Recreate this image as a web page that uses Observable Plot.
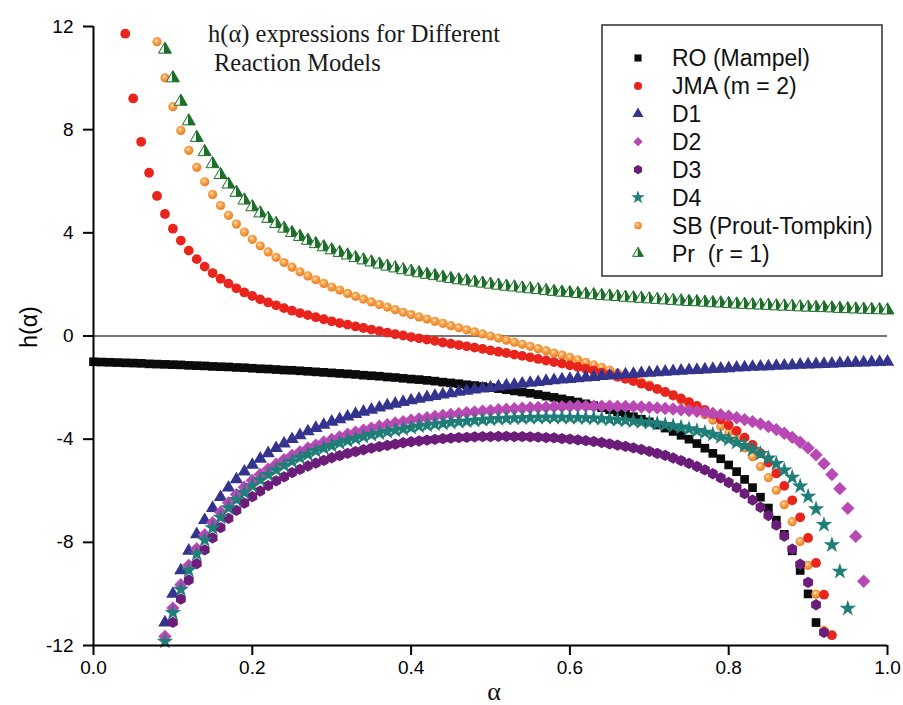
<!DOCTYPE html>
<html>
<head>
<meta charset="utf-8">
<script src="https://cdn.jsdelivr.net/npm/d3@7"></script>
<script src="https://cdn.jsdelivr.net/npm/@observablehq/plot@0.6"></script>
<style>
  html, body { margin: 0; padding: 0; background: #fff; }
  #wrap { position: relative; width: 903px; height: 705px; overflow: hidden; }
  #wrap > svg { position: absolute; left: 0; top: 0; }
</style>
</head>
<body>
<div id="wrap"></div>
<script>
// ---------------- DATA ----------------
const alpha = [0.00,0.01,0.02,0.03,0.04,0.05,0.06,0.07,0.08,0.09,
  0.10,0.11,0.12,0.13,0.14,0.15,0.16,0.17,0.18,0.19,
  0.20,0.21,0.22,0.23,0.24,0.25,0.26,0.27,0.28,0.29,
  0.30,0.31,0.32,0.33,0.34,0.35,0.36,0.37,0.38,0.39,
  0.40,0.41,0.42,0.43,0.44,0.45,0.46,0.47,0.48,0.49,
  0.50,0.51,0.52,0.53,0.54,0.55,0.56,0.57,0.58,0.59,
  0.60,0.61,0.62,0.63,0.64,0.65,0.66,0.67,0.68,0.69,
  0.70,0.71,0.72,0.73,0.74,0.75,0.76,0.77,0.78,0.79,
  0.80,0.81,0.82,0.83,0.84,0.85,0.86,0.87,0.88,0.89,
  0.90,0.91,0.92,0.93,0.94,0.95,0.96,0.97,0.98,0.99,1.00];

const RO = [-1.00,-1.01,-1.02,-1.03,-1.04,-1.05,-1.06,-1.08,-1.09,-1.10,
  -1.11,-1.12,-1.14,-1.15,-1.16,-1.18,-1.19,-1.20,-1.22,-1.23,
  -1.25,-1.27,-1.28,-1.30,-1.32,-1.33,-1.35,-1.37,-1.39,-1.41,
  -1.43,-1.45,-1.47,-1.49,-1.52,-1.54,-1.56,-1.59,-1.61,-1.64,
  -1.67,-1.69,-1.72,-1.75,-1.79,-1.82,-1.85,-1.89,-1.92,-1.96,
  -2.00,-2.04,-2.08,-2.13,-2.17,-2.22,-2.27,-2.33,-2.38,-2.44,
  -2.50,-2.56,-2.63,-2.70,-2.78,-2.86,-2.94,-3.03,-3.13,-3.23,
  -3.33,-3.45,-3.57,-3.70,-3.85,-4.00,-4.17,-4.35,-4.55,-4.76,
  -5.00,-5.26,-5.56,-5.88,-6.25,-6.67,-7.14,-7.69,-8.33,-9.09,
  -10.00,-11.11,null,null,null,null,null,null,null,null,null];

const JMA = [null,null,null,null,11.72,9.21,7.53,6.33,5.43,4.73,
  4.16,3.70,3.31,2.98,2.69,2.44,2.22,2.03,1.85,1.69,
  1.55,1.42,1.30,1.19,1.08,0.98,0.89,0.81,0.73,0.65,
  0.57,0.50,0.44,0.37,0.31,0.25,0.19,0.13,0.07,0.02,
  -0.04,-0.09,-0.14,-0.19,-0.25,-0.30,-0.35,-0.40,-0.45,-0.50,
  -0.56,-0.61,-0.66,-0.72,-0.77,-0.83,-0.89,-0.95,-1.01,-1.07,
  -1.14,-1.20,-1.27,-1.34,-1.42,-1.50,-1.58,-1.66,-1.75,-1.85,
  -1.95,-2.06,-2.17,-2.29,-2.42,-2.56,-2.71,-2.87,-3.04,-3.24,
  -3.45,-3.68,-3.94,-4.22,-4.54,-4.91,-5.33,-5.81,-6.37,-7.03,
  -7.83,-8.80,-10.03,-11.60,null,null,null,null,null,null,null];

const D1 = [null,null,null,null,null,null,null,null,null,-11.11,
  -10.00,-9.09,-8.33,-7.69,-7.14,-6.67,-6.25,-5.88,-5.56,-5.26,
  -5.00,-4.76,-4.55,-4.35,-4.17,-4.00,-3.85,-3.70,-3.57,-3.45,
  -3.33,-3.23,-3.13,-3.03,-2.94,-2.86,-2.78,-2.70,-2.63,-2.56,
  -2.50,-2.44,-2.38,-2.33,-2.27,-2.22,-2.17,-2.13,-2.08,-2.04,
  -2.00,-1.96,-1.92,-1.89,-1.85,-1.82,-1.79,-1.75,-1.72,-1.69,
  -1.67,-1.64,-1.61,-1.59,-1.56,-1.54,-1.52,-1.49,-1.47,-1.45,
  -1.43,-1.41,-1.39,-1.37,-1.35,-1.33,-1.32,-1.30,-1.28,-1.27,
  -1.25,-1.23,-1.22,-1.20,-1.19,-1.18,-1.16,-1.15,-1.14,-1.12,
  -1.11,-1.10,-1.09,-1.08,-1.06,-1.05,-1.04,-1.03,-1.02,-1.01,-1.00];

const D2 = [null,null,null,null,null,null,null,null,null,-11.65,
  -10.55,-9.64,-8.89,-8.25,-7.71,-7.24,-6.83,-6.47,-6.15,-5.86,
  -5.60,-5.37,-5.16,-4.97,-4.79,-4.63,-4.49,-4.35,-4.23,-4.11,
  -4.01,-3.91,-3.81,-3.73,-3.65,-3.57,-3.50,-3.44,-3.37,-3.32,
  -3.26,-3.21,-3.17,-3.12,-3.08,-3.04,-3.01,-2.97,-2.94,-2.91,
  -2.89,-2.86,-2.84,-2.82,-2.80,-2.78,-2.77,-2.76,-2.74,-2.74,
  -2.73,-2.72,-2.72,-2.72,-2.72,-2.72,-2.73,-2.73,-2.74,-2.75,
  -2.77,-2.79,-2.81,-2.83,-2.86,-2.89,-2.92,-2.96,-3.00,-3.05,
  -3.11,-3.17,-3.24,-3.32,-3.41,-3.51,-3.63,-3.77,-3.93,-4.12,
  -4.34,-4.61,-4.95,-5.37,-5.92,-6.68,-7.77,-9.51,null,null,null];

const D3 = [null,null,null,null,null,null,null,null,null,null,
  -11.10,-10.20,-9.46,-8.83,-8.29,-7.83,-7.43,-7.07,-6.76,-6.48,
  -6.23,-6.01,-5.80,-5.62,-5.46,-5.30,-5.17,-5.04,-4.93,-4.82,
  -4.72,-4.64,-4.55,-4.48,-4.41,-4.35,-4.29,-4.24,-4.19,-4.14,
  -4.10,-4.07,-4.04,-4.01,-3.98,-3.96,-3.94,-3.93,-3.91,-3.90,
  -3.90,-3.89,-3.89,-3.90,-3.90,-3.91,-3.92,-3.94,-3.95,-3.98,
  -4.00,-4.03,-4.06,-4.09,-4.13,-4.18,-4.23,-4.28,-4.34,-4.40,
  -4.47,-4.55,-4.63,-4.73,-4.83,-4.94,-5.06,-5.19,-5.34,-5.50,
  -5.68,-5.88,-6.11,-6.36,-6.64,-6.96,-7.33,-7.76,-8.26,-8.85,
  -9.55,-10.42,-11.49,null,null,null,null,null,null,null,null];

const D4 = [null,null,null,null,null,null,null,null,null,-11.84,
  -10.73,-9.83,-9.08,-8.45,-7.91,-7.44,-7.03,-6.67,-6.35,-6.07,
  -5.81,-5.58,-5.38,-5.19,-5.02,-4.86,-4.72,-4.59,-4.46,-4.35,
  -4.25,-4.15,-4.06,-3.98,-3.90,-3.83,-3.77,-3.71,-3.65,-3.60,
  -3.55,-3.50,-3.46,-3.42,-3.39,-3.35,-3.32,-3.30,-3.27,-3.25,
  -3.23,-3.21,-3.20,-3.19,-3.18,-3.17,-3.16,-3.16,-3.16,-3.16,
  -3.17,-3.17,-3.18,-3.19,-3.21,-3.23,-3.25,-3.27,-3.30,-3.33,
  -3.36,-3.40,-3.44,-3.49,-3.54,-3.60,-3.67,-3.74,-3.82,-3.91,
  -4.01,-4.13,-4.25,-4.40,-4.56,-4.74,-4.95,-5.20,-5.48,-5.82,
  -6.22,-6.71,-7.32,-8.10,-9.13,-10.56,null,null,null,null,null];

const SB = [null,null,null,null,null,null,null,null,11.41,10.01,
  8.89,7.97,7.20,6.54,5.98,5.49,5.06,4.68,4.34,4.03,
  3.75,3.50,3.26,3.05,2.85,2.67,2.49,2.33,2.18,2.04,
  1.90,1.78,1.65,1.54,1.43,1.32,1.22,1.12,1.02,0.92,
  0.83,0.74,0.66,0.57,0.49,0.40,0.32,0.24,0.16,0.08,
  0.00,-0.08,-0.16,-0.24,-0.32,-0.40,-0.49,-0.57,-0.66,-0.74,
  -0.83,-0.92,-1.02,-1.12,-1.22,-1.32,-1.43,-1.54,-1.65,-1.78,
  -1.90,-2.04,-2.18,-2.33,-2.49,-2.67,-2.85,-3.05,-3.26,-3.50,
  -3.75,-4.03,-4.34,-4.68,-5.06,-5.49,-5.98,-6.54,-7.20,-7.97,
  -8.89,-10.01,-11.41,null,null,null,null,null,null,null,null];

const Pr = [null,null,null,null,null,null,null,null,null,11.11,
  10.00,9.09,8.33,7.69,7.14,6.67,6.25,5.88,5.56,5.26,
  5.00,4.76,4.55,4.35,4.17,4.00,3.85,3.70,3.57,3.45,
  3.33,3.23,3.13,3.03,2.94,2.86,2.78,2.70,2.63,2.56,
  2.50,2.44,2.38,2.33,2.27,2.22,2.17,2.13,2.08,2.04,
  2.00,1.96,1.92,1.89,1.85,1.82,1.79,1.75,1.72,1.69,
  1.67,1.64,1.61,1.59,1.56,1.54,1.52,1.49,1.47,1.45,
  1.43,1.41,1.39,1.37,1.35,1.33,1.32,1.30,1.28,1.27,
  1.25,1.23,1.22,1.20,1.19,1.18,1.16,1.15,1.14,1.12,
  1.11,1.10,1.09,1.08,1.06,1.05,1.04,1.03,1.02,1.01,1.00];

const seriesNames = ["RO (Mampel)", "JMA (m = 2)", "D1", "D2", "D3", "D4", "SB (Prout-Tompkin)", "Pr\u00a0\u00a0(r = 1)"];
const xTicks = [0, 0.2, 0.4, 0.6, 0.8, 1.0];
const yTicks = [-12, -8, -4, 0, 4, 8, 12];
const titleLines = ["h(\u03b1) expressions for Different", "Reaction Models"];
const xLabel = "\u03b1";
const yLabel = "h(\u03b1)";

// ---------------- STYLE ----------------
const styles = [
  {key: "RO",  values: RO,  symbol: "square",   r: 4.9, fill: "#0b0b0b", stroke: "none"},
  {key: "JMA", values: JMA, symbol: "circle",   r: 4.9, fill: "#e8241d", stroke: "none"},
  {key: "D1",  values: D1,  symbol: "triangle", r: 5.0, fill: "#34348f", stroke: "none"},
  {key: "D2",  values: D2,  symbol: "diamond2", r: 6.0, fill: "#b948b4", stroke: "none"},
  {key: "D3",  values: D3,  symbol: "hexagon",  r: 4.9, fill: "#6c1d79", stroke: "none"},
  {key: "D4",  values: D4,  symbol: "star",     r: 5.2, fill: "#1f7e78", stroke: "none"},
  {key: "SB",  values: SB,  symbol: "circle",   r: 4.6, fill: "url(#sbGrad)", stroke: "none"},
  {key: "Pr",  values: Pr,  symbol: "triangle", r: 4.8, fill: "url(#prGrad)", stroke: "#1e6e2b"}
];
// draw order (later on top)
const drawOrder = ["RO", "SB", "JMA", "D1", "D2", "D3", "D4", "Pr"];

function rows(values) {
  const out = [];
  values.forEach((v, i) => { if (v !== null) out.push({a: alpha[i], h: v}); });
  return out;
}

const W = 903, H = 705;
const wrap = document.getElementById("wrap");

// gradient definitions
const defsSvg = d3.select(wrap).append("svg").attr("width", 0).attr("height", 0);
const defs = defsSvg.append("defs");
const sb = defs.append("radialGradient").attr("id", "sbGrad").attr("cx", 0.42).attr("cy", 0.38).attr("r", 0.62);
sb.append("stop").attr("offset", "0%").attr("stop-color", "#fff4dc");
sb.append("stop").attr("offset", "30%").attr("stop-color", "#f7ad5a");
sb.append("stop").attr("offset", "100%").attr("stop-color", "#ec7a1c");
const pr = defs.append("linearGradient").attr("id", "prGrad").attr("x1", 0).attr("x2", 1).attr("y1", 0).attr("y2", 0);
pr.append("stop").attr("offset", "0%").attr("stop-color", "#eef6ee");
pr.append("stop").attr("offset", "45%").attr("stop-color", "#eef6ee");
pr.append("stop").attr("offset", "46%").attr("stop-color", "#1e6e2b");
pr.append("stop").attr("offset", "100%").attr("stop-color", "#1e6e2b");

const dotMarks = drawOrder.map(k => {
  const s = styles.find(d => d.key === k);
  return Plot.dot(rows(s.values), {
    x: "a", y: "h", symbol: () => s.symbol, r: s.r,
    fill: s.fill, stroke: s.stroke, strokeWidth: s.stroke === "none" ? 0 : 1
  });
});

const chart = Plot.plot({
  width: W, height: H,
  marginLeft: 93, marginRight: 16, marginTop: 26, marginBottom: 60,
  style: {fontFamily: "'Liberation Sans', Arial, sans-serif", fontSize: "19px", color: "#000", background: "transparent"},
  x: {domain: [0, 1]},
  y: {domain: [-12, 12]},
  symbol: {type: "identity"},
  marks: [
    Plot.ruleY([0], {stroke: "#4a4a4a", strokeWidth: 1.6}),
    ...dotMarks,
    Plot.ruleX([0], {stroke: "#000", strokeWidth: 2}),
    Plot.ruleY([-12], {stroke: "#000", strokeWidth: 2}),
    Plot.axisX({ticks: xTicks, tickFormat: d3.format(".1f"), tickSize: 10, tickPadding: 5, strokeWidth: 2, label: null, fontSize: 19}),
    Plot.axisY({ticks: yTicks, tickFormat: d => String(d), tickSize: 10, tickPadding: 10, strokeWidth: 2, label: null, fontSize: 19})
  ]
});
chart.classList.add("plot");
wrap.appendChild(chart);

// ---------------- overlay: title, axis labels, legend ----------------
const ov = d3.select(wrap).append("svg").attr("width", W).attr("height", H).style("pointer-events", "none");

ov.append("text").attr("x", 208).attr("y", 42)
  .attr("font-family", "'Liberation Serif', 'Times New Roman', serif").attr("font-size", 24.5).attr("fill", "#1a1a1a")
  .text(titleLines[0]);
ov.append("text").attr("x", 214).attr("y", 71)
  .attr("font-family", "'Liberation Serif', 'Times New Roman', serif").attr("font-size", 24.5).attr("fill", "#1a1a1a")
  .text(titleLines[1]);

ov.append("text").attr("transform", "translate(37,327) rotate(-90)").attr("text-anchor", "middle")
  .attr("font-family", "'Liberation Sans', Arial, sans-serif").attr("font-size", 23).attr("fill", "#000")
  .text(yLabel);
ov.append("text").attr("x", 494).attr("y", 700).attr("text-anchor", "middle")
  .attr("font-family", "'Liberation Serif', 'Times New Roman', serif").attr("font-size", 26).attr("fill", "#111")
  .text(xLabel);

// legend
const lg = ov.append("g");
lg.append("rect").attr("x", 602).attr("y", 25).attr("width", 280).attr("height", 251)
  .attr("fill", "#fff").attr("stroke", "#3a3a3a").attr("stroke-width", 1.6);
const sqrt4_3 = 2 / Math.sqrt(3);
const symbolHexagon = {draw(ctx, size) {
  const rx = Math.sqrt(size / Math.PI), ry = rx * sqrt4_3, hy = ry / 2;
  ctx.moveTo(0, ry); ctx.lineTo(rx, hy); ctx.lineTo(rx, -hy); ctx.lineTo(0, -ry);
  ctx.lineTo(-rx, -hy); ctx.lineTo(-rx, hy); ctx.closePath();
}};
const symMap = {square: d3.symbolSquare, circle: d3.symbolCircle, triangle: d3.symbolTriangle,
  diamond2: d3.symbolDiamond2, hexagon: symbolHexagon, star: d3.symbolStar};
styles.forEach((s, i) => {
  const y = 58 + i * 27.9;
  const r = s.r * (s.symbol === "diamond2" ? 0.7 : 0.82);
  lg.append("path").attr("transform", `translate(638,${y})`)
    .attr("d", d3.symbol(symMap[s.symbol], Math.PI * r * r)())
    .attr("fill", s.fill).attr("stroke", s.stroke).attr("stroke-width", s.stroke === "none" ? 0 : 1);
  lg.append("text").attr("x", 672).attr("y", y).attr("dy", "0.36em")
    .attr("font-family", "'Liberation Sans', Arial, sans-serif").attr("font-size", 23).attr("fill", "#111")
    .text(seriesNames[i]);
});
</script>
</body>
</html>
